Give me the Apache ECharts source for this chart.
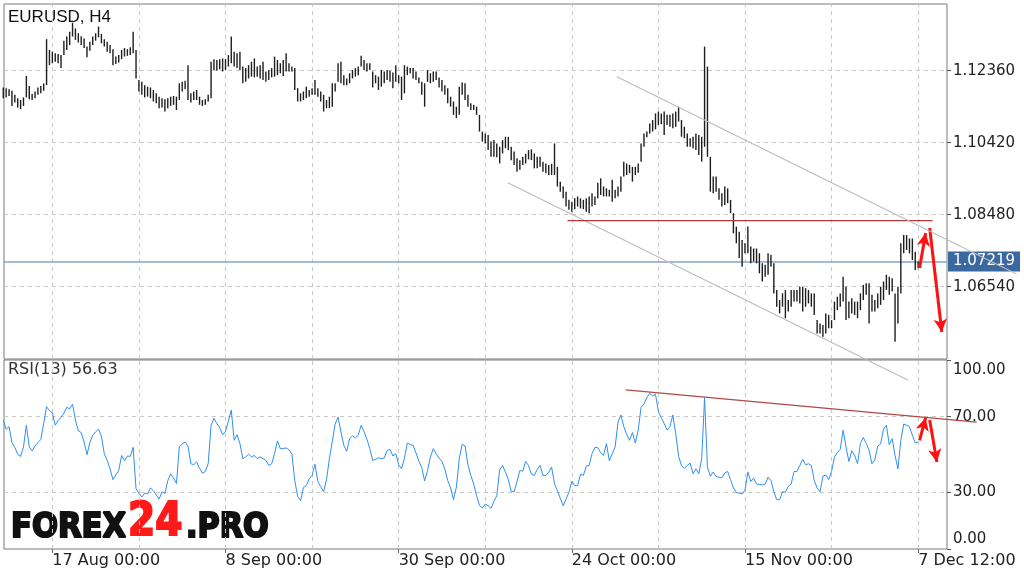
<!DOCTYPE html>
<html>
<head>
<meta charset="utf-8">
<title>EURUSD, H4</title>
<script src="https://cdn.jsdelivr.net/npm/echarts@6/dist/echarts.min.js"></script>
<style>
  html, body { margin: 0; padding: 0; background: #fff; }
  #chart { width: 1024px; height: 577px; }
</style>
</head>
<body>
<div id="chart"></div>
<script>
// H4 bars, index 0 = first bar on the left
var highs = [
  1.1191,1.1189,1.1186,1.1182,1.1171,1.1162,1.1157,1.1164,1.1222,1.1195,
  1.1173,1.1180,1.1191,1.1195,1.1202,1.1321,1.1292,1.1287,1.1283,1.1281,
  1.1278,1.1317,1.1328,1.1341,1.1365,1.1350,1.1337,1.1329,1.1323,1.1301,
  1.1314,1.1328,1.1337,1.1355,1.1335,1.1321,1.1314,1.1305,1.1294,1.1274,
  1.1278,1.1292,1.1297,1.1294,1.1299,1.1341,1.1292,1.1211,1.1206,1.1197,
  1.1193,1.1191,1.1184,1.1175,1.1166,1.1162,1.1159,1.1162,1.1166,1.1168,
  1.1166,1.1202,1.1206,1.1209,1.1251,1.1175,1.1180,1.1184,1.1166,1.1157,
  1.1159,1.1171,1.1260,1.1267,1.1265,1.1267,1.1269,1.1267,1.1278,1.1328,
  1.1287,1.1283,1.1287,1.1247,1.1243,1.1251,1.1260,1.1269,1.1247,1.1251,
  1.1260,1.1234,1.1238,1.1243,1.1274,1.1265,1.1256,1.1265,1.1283,1.1256,
  1.1247,1.1243,1.1189,1.1175,1.1180,1.1193,1.1184,1.1189,1.1211,1.1189,
  1.1180,1.1171,1.1157,1.1166,1.1202,1.1202,1.1256,1.1260,1.1224,1.1215,
  1.1229,1.1238,1.1243,1.1247,1.1276,1.1265,1.1256,1.1256,1.1234,1.1224,
  1.1220,1.1238,1.1234,1.1238,1.1236,1.1231,1.1251,1.1224,1.1220,1.1251,
  1.1247,1.1243,1.1243,1.1234,1.1218,1.1206,1.1202,1.1238,1.1229,1.1234,
  1.1234,1.1218,1.1211,1.1197,1.1189,1.1166,1.1153,1.1139,1.1193,1.1204,
  1.1202,1.1171,1.1148,1.1144,1.1139,1.1117,1.1072,1.1067,1.1063,1.1045,
  1.1049,1.1040,1.1031,1.1049,1.1058,1.1058,1.1031,1.1018,1.1000,1.0995,
  1.1004,1.1012,1.1022,1.1024,1.1013,1.1004,1.1004,1.0991,1.0986,1.0982,
  1.0985,1.1040,1.0977,1.0937,1.0924,1.0910,1.0888,1.0883,1.0892,1.0897,
  1.0892,1.0888,1.0892,1.0897,1.0906,1.0897,1.0934,1.0946,1.0924,1.0919,
  1.0915,1.0942,1.0915,1.0924,1.0951,1.0991,1.0986,1.0982,1.0977,1.0977,
  1.0986,1.1040,1.1067,1.1072,1.1094,1.1103,1.1121,1.1126,1.1121,1.1126,
  1.1117,1.1117,1.1121,1.1126,1.1139,1.1103,1.1085,1.1067,1.1054,1.1058,
  1.1067,1.1063,1.1058,1.1301,1.1247,1.1004,1.0951,1.0951,1.0919,1.0906,
  1.0924,1.0919,1.0888,1.0852,1.0816,1.0802,1.0780,1.0771,1.0816,1.0762,
  1.0757,1.0757,1.0744,1.0717,1.0713,1.0744,1.0740,1.0717,1.0645,1.0618,
  1.0636,1.0645,1.0618,1.0645,1.0645,1.0645,1.0654,1.0654,1.0650,1.0645,
  1.0636,1.0636,1.0564,1.0555,1.0551,1.0582,1.0578,1.0564,1.0614,1.0627,
  1.0636,1.0681,1.0654,1.0614,1.0623,1.0614,1.0614,1.0636,1.0659,1.0663,
  1.0663,1.0632,1.0618,1.0636,1.0654,1.0668,1.0686,1.0681,1.0677,1.0636,
  1.0654,1.0771,1.0793,1.0793,1.0784,1.0784,1.0748,1.0722
];
var lows = [
  1.1162,1.1164,1.1168,1.1141,1.1150,1.1137,1.1132,1.1141,1.1164,1.1159,
  1.1157,1.1162,1.1171,1.1175,1.1182,1.1197,1.1251,1.1256,1.1260,1.1256,
  1.1243,1.1278,1.1292,1.1305,1.1328,1.1319,1.1312,1.1305,1.1297,1.1272,
  1.1290,1.1305,1.1317,1.1326,1.1310,1.1301,1.1287,1.1283,1.1251,1.1254,
  1.1258,1.1267,1.1274,1.1276,1.1278,1.1283,1.1215,1.1180,1.1171,1.1164,
  1.1166,1.1162,1.1153,1.1148,1.1135,1.1137,1.1126,1.1135,1.1141,1.1144,
  1.1130,1.1157,1.1180,1.1186,1.1157,1.1150,1.1157,1.1157,1.1144,1.1141,
  1.1144,1.1153,1.1162,1.1238,1.1236,1.1240,1.1234,1.1238,1.1247,1.1256,
  1.1247,1.1243,1.1238,1.1202,1.1206,1.1215,1.1220,1.1218,1.1220,1.1215,
  1.1211,1.1206,1.1211,1.1218,1.1220,1.1224,1.1229,1.1222,1.1234,1.1234,
  1.1234,1.1184,1.1153,1.1153,1.1157,1.1162,1.1166,1.1171,1.1171,1.1166,
  1.1153,1.1126,1.1135,1.1135,1.1139,1.1180,1.1206,1.1202,1.1197,1.1197,
  1.1202,1.1215,1.1220,1.1224,1.1247,1.1238,1.1234,1.1238,1.1191,1.1202,
  1.1184,1.1193,1.1202,1.1211,1.1206,1.1189,1.1206,1.1202,1.1157,1.1175,
  1.1224,1.1229,1.1215,1.1211,1.1202,1.1171,1.1139,1.1206,1.1202,1.1206,
  1.1211,1.1191,1.1180,1.1171,1.1148,1.1139,1.1117,1.1108,1.1117,1.1171,
  1.1157,1.1139,1.1130,1.1130,1.1117,1.1072,1.1045,1.1040,1.1022,1.1004,
  1.1004,1.1003,1.0986,1.1013,1.1027,1.1022,1.0995,1.0982,1.0964,1.0969,
  1.0982,1.0986,1.0997,1.0995,1.0973,1.0973,1.0977,1.0964,1.0960,1.0955,
  1.0955,1.0955,1.0924,1.0910,1.0892,1.0870,1.0861,1.0856,1.0863,1.0870,
  1.0865,1.0863,1.0856,1.0852,1.0870,1.0874,1.0892,1.0901,1.0897,1.0897,
  1.0897,1.0883,1.0892,1.0897,1.0910,1.0951,1.0955,1.0960,1.0937,1.0955,
  1.0961,1.0991,1.1031,1.1057,1.1067,1.1072,1.1078,1.1090,1.1092,1.1063,
  1.1090,1.1085,1.1081,1.1085,1.1099,1.1058,1.1054,1.1031,1.1031,1.1027,
  1.1022,1.1009,1.0991,1.1031,1.1004,1.0910,1.0906,1.0910,1.0888,1.0870,
  1.0874,1.0879,1.0852,1.0798,1.0771,1.0731,1.0708,1.0744,1.0744,1.0717,
  1.0722,1.0717,1.0690,1.0668,1.0681,1.0686,1.0708,1.0636,1.0600,1.0582,
  1.0600,1.0569,1.0587,1.0600,1.0614,1.0614,1.0609,1.0587,1.0600,1.0609,
  1.0600,1.0578,1.0528,1.0528,1.0519,1.0528,1.0542,1.0542,1.0564,1.0591,
  1.0600,1.0614,1.0564,1.0569,1.0582,1.0578,1.0569,1.0591,1.0618,1.0632,
  1.0555,1.0587,1.0587,1.0596,1.0605,1.0618,1.0645,1.0632,1.0641,1.0506,
  1.0555,1.0636,1.0744,1.0753,1.0744,1.0726,1.0699,1.0704
];
var rsi = [
  68.2,63.4,64.7,56.3,53.8,50.1,49.0,54.0,65.5,54.0,
  51.9,54.5,56.3,57.9,66.4,75.3,73.2,72.1,65.5,68.0,
  69.6,71.9,75.0,74.1,76.6,68.2,62.5,61.6,56.6,49.9,
  56.3,60.2,62.0,63.4,59.7,50.4,46.9,42.4,36.7,39.2,
  41.5,49.5,46.7,49.2,49.0,53.8,31.8,29.5,27.5,29.6,
  29.1,32.3,30.9,28.6,26.4,30.3,29.3,36.2,39.8,37.6,
  34.6,54.0,55.6,56.6,54.5,45.1,44.6,46.0,42.8,40.1,
  41.0,45.1,65.5,69.1,66.4,64.1,60.5,62.3,67.7,73.5,
  57.5,60.5,55.8,47.8,48.7,50.1,48.7,49.5,47.8,48.7,
  47.8,46.9,44.2,45.1,50.4,57.2,53.1,53.1,53.5,52.6,
  50.1,36.2,27.9,25.5,32.5,33.5,37.1,38.9,44.9,35.7,
  33.0,30.3,36.7,47.8,57.0,66.1,69.8,62.0,54.9,51.7,
  58.4,59.9,58.8,60.2,65.5,62.0,58.1,53.1,46.9,47.4,
  48.3,47.8,48.1,52.2,52.7,49.2,50.4,44.6,42.4,48.1,
  56.1,55.2,54.9,50.8,46.5,43.0,36.0,41.5,48.7,53.1,
  50.4,48.1,46.3,42.4,36.2,32.3,26.1,32.7,47.8,55.4,
  54.5,44.6,38.9,34.4,28.2,23.2,21.6,23.8,22.9,21.5,
  25.2,28.2,41.9,44.2,40.7,36.7,30.5,30.3,35.7,41.5,
  41.2,46.3,44.2,39.6,38.9,42.1,44.2,38.9,38.9,40.7,
  43.3,34.4,30.9,26.8,22.9,26.4,30.0,35.8,33.5,33.5,
  39.6,38.9,43.9,44.2,50.4,53.8,53.6,51.0,49.5,55.8,
  46.7,50.4,54.0,67.0,70.9,64.8,60.7,57.5,61.6,56.1,
  62.9,75.0,76.7,80.1,82.4,81.0,81.9,72.7,69.5,66.4,
  62.9,64.8,70.9,61.1,49.0,44.2,42.6,44.2,45.5,39.8,
  42.4,39.8,47.8,79.8,43.3,38.5,40.7,38.3,38.0,37.6,
  40.3,41.0,36.7,32.3,30.0,29.6,29.1,31.2,40.7,35.7,
  37.5,34.4,34.1,33.9,34.4,38.0,36.2,30.3,26.1,26.1,
  30.3,30.0,33.2,34.4,41.0,41.0,44.2,47.4,44.6,45.1,
  44.2,36.2,32.3,30.3,38.5,39.2,36.7,41.0,48.7,51.0,
  52.7,62.9,54.0,46.3,52.0,49.5,45.1,55.8,59.0,55.9,
  52.2,45.1,47.2,54.5,55.6,63.4,65.5,55.2,58.4,49.5,
  42.4,57.5,66.1,65.5,64.7,60.2,56.1,56.6
];

var gridBars = [17, 47, 77, 107, 137, 167, 197, 227, 257, 287, 317];
var tickBars = [17, 77, 137, 197, 257, 317];
var tickLabels = ['17 Aug 00:00', '8 Sep 00:00', '30 Sep 00:00', '24 Oct 00:00', '15 Nov 00:00', '7 Dec 12:00'];
var priceLevels = [1.0654, 1.0848, 1.1042, 1.1236];
var rsiLevels = [30, 70];
var rsiTicks = [0, 30, 70, 100];
var lastPrice = 1.07219;
var lastRsi = 56.63;

// drawn objects, in (bar index, price / rsi)
var upperChannel = [[212.6, 1.12198], [351.1, 1.06882]];
var lowerChannel = [[174.8, 1.09342], [313.4, 1.04026]];
var resistance = [[195.5, 1.0832], [322, 1.0832]];
var rsiTrend = [[215.7, 84.2], [337.3, 67.1]];
var priceArrows = [[[317.5, 1.07044], [319.6, 1.07987]], [[321, 1.08122], [325.2, 1.05319]]];
var rsiArrows = [[[317.5, 57.5], [319.6, 69.5]], [[321, 68.2], [323.5, 46]]];

var chart = echarts.init(document.getElementById('chart'));

var barData = highs.map(function (h, i) { return [i, h, lows[i]]; });
var rsiData = rsi.map(function (v, i) { return [i, v]; });

var font = 'DejaVu Sans';
var dashed = { color: '#c9c9c9', width: 1, type: [4, 4] };
var arrowStyle = { color: '#ff1111', width: 3, type: 'solid' };

function vLines() {
  return gridBars.map(function (b) { return { xAxis: b }; });
}
function arrowPairs(list) {
  return list.map(function (a) { return [{ coord: a[0] }, { coord: a[1] }]; });
}

var texts = [
  { type: 'text', x: 8, y: 17, style: { text: 'EURUSD, H4', font: '17px "Liberation Sans"', fill: '#111', verticalAlign: 'middle' } },
  { type: 'text', x: 8, y: 370, style: { text: 'RSI(13) ' + lastRsi.toFixed(2), font: '16px "DejaVu Sans"', fill: '#333', verticalAlign: 'middle' } },
  { type: 'text', x: 11, y: 528, scaleX: 0.9, style: { text: 'FOREX', font: 'bold 34px "DejaVu Sans"', fill: '#111', stroke: '#111', lineWidth: 2.2, verticalAlign: 'middle' } },
  { type: 'text', x: 128, y: 523, scaleX: 0.85, style: { text: '24', font: 'bold 46px "DejaVu Sans"', fill: '#ff1a1a', stroke: '#ff1a1a', lineWidth: 2.2, verticalAlign: 'middle' } },
  { type: 'text', x: 186, y: 528, scaleX: 0.89, style: { text: '.PRO', font: 'bold 34px "DejaVu Sans"', fill: '#111', stroke: '#111', lineWidth: 2.2, verticalAlign: 'middle' } }
];

var option = {
  animation: false,
  backgroundColor: '#fff',
  grid: [
    { left: 4, top: 4, width: 943, height: 355, show: true, borderColor: '#7a7a7a', borderWidth: 1, outerBoundsMode: 'none' },
    { left: 4, top: 360, width: 943, height: 189, show: true, borderColor: '#7a7a7a', borderWidth: 1, outerBoundsMode: 'none' }
  ],
  xAxis: [
    {
      gridIndex: 0, type: 'value', min: 0.25, max: 327,
      axisLine: { show: false }, axisTick: { show: false },
      axisLabel: { show: false }, splitLine: { show: false }
    },
    {
      gridIndex: 1, type: 'value', min: 0.25, max: 327,
      axisLine: { show: false }, splitLine: { show: false },
      axisTick: { show: true, length: 4, customValues: tickBars, lineStyle: { color: '#666' } },
      axisLabel: {
        customValues: tickBars,
        formatter: function (v) { return tickLabels[tickBars.indexOf(v)]; },
        align: 'left', margin: 4, fontSize: 16, fontFamily: font, color: '#222'
      }
    }
  ],
  yAxis: [
    {
      gridIndex: 0, type: 'value', position: 'right', min: 1.04592, max: 1.14157,
      axisLine: { show: false }, splitLine: { show: false },
      axisTick: { show: true, length: 4, customValues: priceLevels, lineStyle: { color: '#555' } },
      axisLabel: {
        customValues: priceLevels,
        formatter: function (v) { return v.toFixed(5); },
        margin: 6, fontSize: 15, fontFamily: font, color: '#222'
      }
    },
    {
      gridIndex: 1, type: 'value', position: 'right', min: 0, max: 100,
      axisLine: { show: false }, splitLine: { show: false },
      axisTick: { show: true, length: 4, customValues: rsiTicks, lineStyle: { color: '#555' } },
      axisLabel: {
        customValues: rsiTicks,
        margin: 6, fontSize: 15, fontFamily: font, color: '#222',
        formatter: function (v) {
          if (v === 100) return '{top|100.00}';
          if (v === 0) return '{bottom|0.00}';
          return v.toFixed(2);
        },
        rich: {
          top: { padding: [20, 0, 0, 0], fontSize: 15, fontFamily: font, color: '#222' },
          bottom: { padding: [0, 0, 20, 0], fontSize: 15, fontFamily: font, color: '#222' }
        }
      }
    }
  ],
  series: [
    {
      // main panel grid
      type: 'line', xAxisIndex: 0, yAxisIndex: 0, data: [], z: 1, silent: true,
      markLine: {
        silent: true, symbol: 'none', z: 1, precision: 5, label: { show: false }, lineStyle: dashed,
        data: vLines().concat(priceLevels.map(function (p) { return { yAxis: p }; }))
      }
    },
    {
      // rsi panel grid
      type: 'line', xAxisIndex: 1, yAxisIndex: 1, data: [], z: 1, silent: true,
      markLine: {
        silent: true, symbol: 'none', z: 1, precision: 5, label: { show: false }, lineStyle: dashed,
        data: vLines().concat(rsiLevels.map(function (p) { return { yAxis: p }; }))
      }
    },
    {
      name: 'EURUSD', type: 'custom', xAxisIndex: 0, yAxisIndex: 0, z: 3, silent: true,
      data: barData,
      encode: { x: 0, y: [1, 2] },
      renderItem: function (params, api) {
        var top = api.coord([api.value(0), api.value(1)]);
        var bottom = api.coord([api.value(0), api.value(2)]);
        return {
          type: 'line',
          shape: { x1: top[0], y1: top[1], x2: bottom[0], y2: bottom[1] },
          style: { stroke: '#1e1e1e', lineWidth: 1.4 }
        };
      }
    },
    {
      name: 'RSI(13)', type: 'line', xAxisIndex: 1, yAxisIndex: 1, z: 3, silent: true,
      data: rsiData, showSymbol: false,
      lineStyle: { color: '#2f8ff0', width: 1 },
      markLine: {
        silent: true, symbol: ['none', 'arrow'], symbolSize: [10, 13], z: 6, precision: 5,
        label: { show: false }, lineStyle: arrowStyle,
        data: arrowPairs(rsiArrows)
      }
    },
    {
      type: 'line', xAxisIndex: 0, yAxisIndex: 0, z: 4, silent: true, clip: false,
      data: lowerChannel, showSymbol: false,
      lineStyle: { color: '#bdbdbd', width: 1.2 },
      markLine: {
        silent: true, symbol: 'none', z: 2, precision: 5,
        lineStyle: { color: '#86a5c8', width: 1.5, type: 'solid' },
        label: {
          show: true, position: 'end', distance: 1,
          formatter: lastPrice.toFixed(5),
          color: '#fff', backgroundColor: '#3a69a0', padding: [3, 5, 2, 5],
          fontSize: 15, fontFamily: font
        },
        data: [{ yAxis: lastPrice }]
      }
    },
    {
      type: 'line', xAxisIndex: 0, yAxisIndex: 0, z: 4, silent: true, clip: false,
      data: resistance, showSymbol: false,
      lineStyle: { color: '#aa3c3c', width: 1.2 },
      markLine: {
        silent: true, symbol: ['none', 'arrow'], symbolSize: [10, 13], z: 6, precision: 5,
        label: { show: false }, lineStyle: arrowStyle,
        data: arrowPairs(priceArrows)
      }
    }
  ],
  graphic: texts
};

chart.setOption(option);

// trend lines that run past the right edge of the plot
function segment(gridIndex, pts, stroke, width) {
  var a = chart.convertToPixel({ gridIndex: gridIndex }, pts[0]);
  var b = chart.convertToPixel({ gridIndex: gridIndex }, pts[1]);
  return {
    type: 'line', z: 100, silent: true,
    shape: { x1: a[0], y1: a[1], x2: b[0], y2: b[1] },
    style: { stroke: stroke, lineWidth: width }
  };
}

chart.setOption({
  graphic: texts.concat([
    segment(0, upperChannel, '#bdbdbd', 1.2),
    segment(1, rsiTrend, '#b04848', 1.2)
  ])
});
</script>
</body>
</html>
